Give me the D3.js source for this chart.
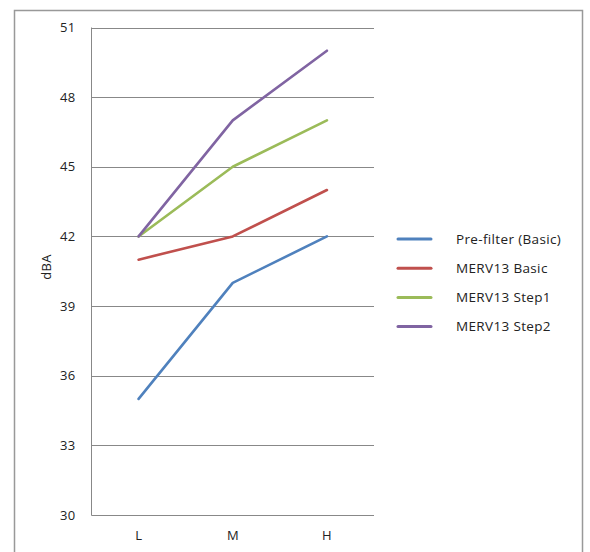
<!DOCTYPE html>
<html><head><meta charset="utf-8">
<script src="https://cdn.jsdelivr.net/npm/d3@7"></script>
<style>body{margin:0;background:#fff;}svg{display:block;font-family:"Open Sans","Noto Sans",sans-serif;}</style>
</head><body><svg id="c" width="590" height="552"></svg>
<script>
const categories = ["L","M","H"];
const seriesNames = ["Pre-filter (Basic)","MERV13 Basic","MERV13 Step1","MERV13 Step2"];
const preFilter = [35,40,42];
const merv13Basic = [41,42,44];
const merv13Step1 = [42,45,47];
const merv13Step2 = [42,47,50];
const yTicks = [30,33,36,39,42,45,48,51];
const colors = ["#4F81BD","#C0504D","#9BBB59","#8064A2"];
const seriesValues = [preFilter, merv13Basic, merv13Step1, merv13Step2];

const svg = d3.select("#c");
svg.append("rect").attr("x",14.5).attr("y",10.5).attr("width",568).attr("height",560)
  .attr("fill","none").attr("stroke","#999").attr("stroke-width",1.5);

const L=91.5, R=374, T=27.5, B=515;
const x = d3.scaleBand().domain(categories).range([L,R]);
const y = d3.scaleLinear().domain([30,51]).range([B,T]);

svg.append("g").selectAll("line").data(yTicks).join("line")
  .attr("x1",L).attr("x2",R).attr("y1",d=>Math.round(y(d))+0.5).attr("y2",d=>Math.round(y(d))+0.5)
  .attr("stroke","#888").attr("stroke-width",1);
svg.append("line").attr("x1",L).attr("x2",L).attr("y1",T).attr("y2",B+0.5).attr("stroke","#888");

const yAxis = svg.append("g").attr("transform",`translate(${L},0)`)
  .call(d3.axisLeft(y).tickValues(yTicks).tickSize(0).tickPadding(16));
yAxis.select(".domain").remove();
yAxis.selectAll("text").attr("font-size",13).attr("fill","#222").attr("font-family","Open Sans, sans-serif").attr("letter-spacing",0.3);

const xAxis = svg.append("g").attr("transform",`translate(0,${B})`)
  .call(d3.axisBottom(x).tickSize(0).tickPadding(16));
xAxis.select(".domain").remove();
xAxis.selectAll("text").attr("font-size",13).attr("fill","#222").attr("font-family","Open Sans, sans-serif");

svg.append("text").attr("transform","translate(46,267) rotate(-90)").attr("text-anchor","middle")
  .attr("dy","0.35em").attr("font-size",13).attr("fill","#222").attr("letter-spacing",0.3).text("dBA");

const line = d3.line().x((d,i)=>x(categories[i])+x.bandwidth()/2).y(d=>y(d));
seriesValues.forEach((vals,i)=>{
  svg.append("path").datum(vals).attr("d",line).attr("fill","none")
    .attr("stroke",colors[i]).attr("stroke-width",2.6).attr("stroke-linecap","round").attr("stroke-linejoin","round");
});

const lg = svg.append("g");
seriesNames.forEach((n,i)=>{
  const yy = 239 + i*29.2;
  lg.append("line").attr("x1",398).attr("x2",431).attr("y1",yy).attr("y2",yy)
    .attr("stroke",colors[i]).attr("stroke-width",3).attr("stroke-linecap","round");
  lg.append("text").attr("x",456).attr("y",yy).attr("dy","0.35em").attr("font-size",13.5)
    .attr("letter-spacing",0.35).attr("fill","#222").text(n);
});
</script></body></html>
